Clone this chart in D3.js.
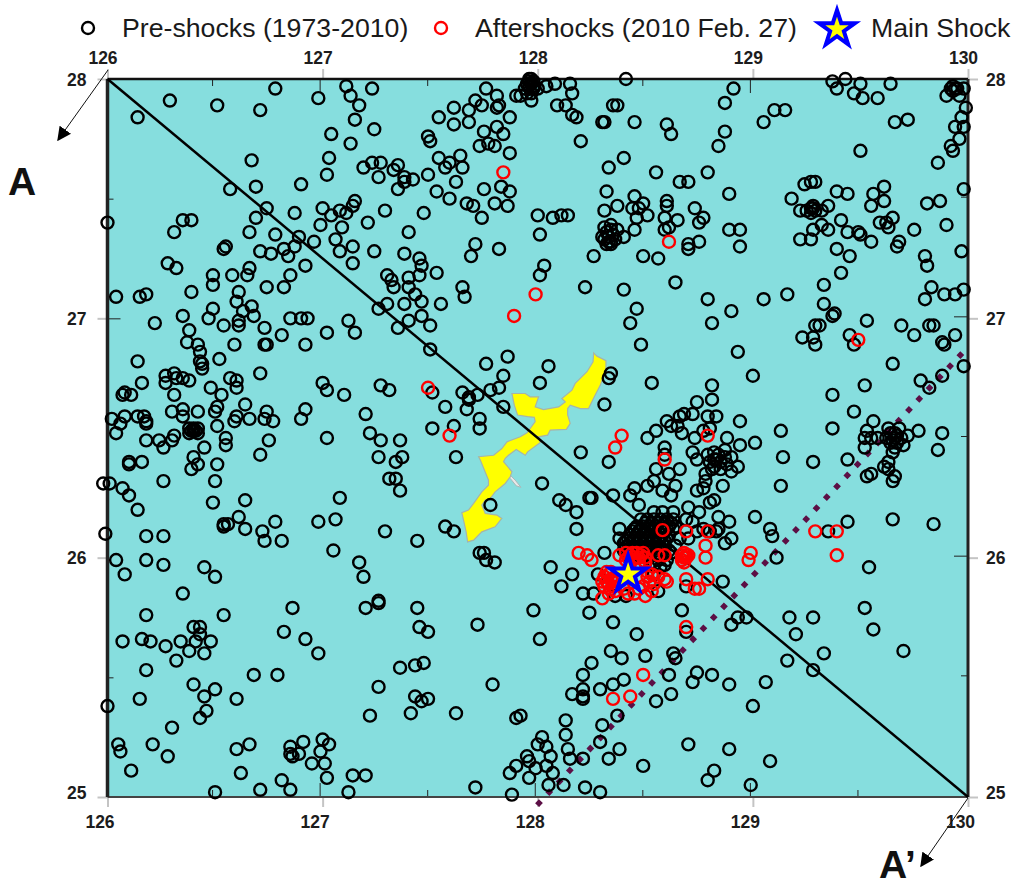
<!DOCTYPE html>
<html>
<head>
<meta charset="utf-8">
<script src="https://cdn.jsdelivr.net/npm/d3@7"></script>
<style>
  body { margin: 0; background: #fff; }
  text { font-family: "Liberation Sans", Arial, sans-serif; }
</style>
</head>
<body>
<script>
// tick labels
const lonTicks = [126, 127, 128, 129, 130];
const latTicks = [25, 26, 27, 28];
const lonMinor = [126.5, 127.5, 128.5, 129.5];
const latMinor = [25.5, 26.5, 27.5];

// legend
const legendLabels = ['Pre-shocks (1973-2010)', 'Aftershocks (2010 Feb. 27)', 'Main Shock'];

// [lon, lat]
const preshocksNorthWest = [
[126.78,27.96],[126.29,27.91],[126.51,27.89],[126.71,27.87],[126.14,27.84],[126.67,27.66],[126.69,27.55],[126.57,27.54],[126.90,27.56],[126.98,27.92],
[127.11,27.97],[127.13,27.93],[127.17,27.89],[127.23,27.96],[127.15,27.83],[127.24,27.79],[127.04,27.77],[127.13,27.73],[127.03,27.67],[127.02,27.60],
[127.19,27.63],[127.23,27.65],[127.27,27.65],[127.26,27.59],[127.35,27.64],[127.33,27.62],[127.38,27.59],[127.42,27.58],[127.35,27.54],[127.38,27.57],
[127.49,27.60],[127.54,27.67],[127.59,27.65],[127.57,27.63],[127.64,27.68],[127.65,27.63],[127.62,27.57],[127.53,27.53],[127.59,27.50],[127.67,27.48],
[127.70,27.47],[127.74,27.42],[127.80,27.48],[127.75,27.54],[127.83,27.55],[127.87,27.53],[127.86,27.47],[127.47,27.44],[127.29,27.45],[127.21,27.40],
[127.40,27.36],[127.15,27.49],[127.14,27.47],[127.08,27.45],[127.11,27.44],[127.00,27.46],[127.04,27.43],[126.99,27.39],[127.09,27.38],[126.87,27.44],
[126.74,27.46],[126.69,27.42],[126.66,27.36],[126.78,27.35],[126.89,27.34],[126.87,27.30],[126.96,27.32],[127.06,27.33],[127.14,27.30],[127.08,27.28],
[127.24,27.28],[127.14,27.23],[126.92,27.22],[127.38,27.27],[127.45,27.25],[127.46,27.22],[127.53,27.19],[127.45,27.18],[127.40,27.17],[127.30,27.18],
[127.32,27.16],[127.33,27.13],[127.40,27.13],[127.43,27.10],[127.65,27.13],[127.66,27.09],[127.71,27.31],[127.69,27.26],[127.82,27.29],[126.00,27.40],
[126.31,27.36],[126.35,27.41],[126.39,27.41],[126.55,27.30],[126.54,27.29],[126.71,27.28],[126.76,27.27],[126.82,27.29],[126.84,27.26],[126.66,27.21],
[126.65,27.18],[126.58,27.18],[126.49,27.18],[126.49,27.14],[126.28,27.23],[126.32,27.21],[126.39,27.11],[126.74,27.13],[126.82,27.13],[126.85,27.18],
[126.61,27.11],[126.04,27.09],[126.15,27.09],[126.18,27.10],[127.49,27.76],[127.50,27.74],[127.54,27.84],[127.61,27.88],[127.68,27.87],[127.61,27.81],
[127.68,27.82],[127.75,27.78],[127.81,27.80],[127.84,27.77],[127.73,27.72],[127.77,27.73],[127.80,27.72],[127.76,27.96],[127.81,27.93],[127.71,27.91],
[127.74,27.89],[127.81,27.88],[127.82,27.89],[127.87,27.84],[127.87,27.69]
];
const preshocksNorthEast = [
[127.96,28.00],[127.97,27.98],[127.98,27.96],[127.95,27.98],[127.90,27.93],[127.94,27.96],[128.00,27.96],[128.04,27.97],[128.08,27.98],[128.15,27.98],
[128.16,27.94],[127.97,27.91],[127.92,27.93],[128.41,28.00],[128.91,27.96],[128.87,27.90],[128.87,27.78],[128.84,27.72],[129.10,27.87],[129.15,27.87],
[129.05,27.82],[129.37,27.99],[129.43,28.00],[129.39,27.96],[129.50,27.98],[129.47,27.94],[129.51,27.92],[129.58,27.92],[129.64,27.98],[129.66,27.82],
[129.72,27.83],[129.50,27.70],[129.86,27.65],[129.92,27.96],[129.94,27.96],[129.98,27.96],[129.96,27.93],[129.90,27.93],[129.99,27.88],[129.97,27.84],
[129.94,27.80],[129.98,27.80],[129.96,27.75],[129.92,27.72],[129.93,27.70],[129.98,27.54],[129.81,27.48],[129.87,27.49],[129.90,27.39],[129.75,27.37],
[129.68,27.32],[129.67,27.30],[129.80,27.26],[129.81,27.22],[129.97,27.28],[129.83,27.13],[129.89,27.10],[129.98,27.12],[129.94,27.10],[129.80,27.08],
[128.09,27.89],[128.13,27.89],[128.16,27.85],[128.18,27.84],[128.20,27.74],[128.31,27.82],[128.30,27.82],[128.35,27.89],[128.37,27.89],[128.45,27.82],
[128.60,27.81],[128.62,27.77],[128.40,27.67],[128.33,27.63],[128.55,27.61],[128.66,27.57],[128.70,27.57],[128.79,27.61],[128.89,27.52],[129.18,27.50],
[129.24,27.56],[129.27,27.57],[129.29,27.57],[129.39,27.53],[129.44,27.52],[129.56,27.52],[129.61,27.55],[129.61,27.49],[129.55,27.47],[128.32,27.53],
[128.45,27.51],[128.37,27.47],[128.31,27.45],[128.44,27.46],[128.49,27.48],[128.47,27.46],[128.60,27.49],[128.60,27.47],[128.73,27.46],[128.77,27.42],
[128.51,27.43],[128.59,27.42],[128.65,27.41],[128.75,27.40],[128.46,27.42],[128.00,27.43],[128.07,27.42],[128.11,27.43],[128.14,27.43],[128.45,27.37],
[128.40,27.34],[128.34,27.39],[128.34,27.37],[128.31,27.38],[128.37,27.37],[128.30,27.34],[128.34,27.32],[128.36,27.33],[128.34,27.31],[128.61,27.38],
[128.59,27.37],[128.01,27.35],[128.89,27.37],[128.94,27.37],[128.94,27.30],[128.75,27.32],[128.70,27.31],[128.70,27.29],[128.26,27.26],[128.49,27.26],
[128.56,27.25],[128.03,27.22],[128.01,27.18],[128.22,27.13],[128.40,27.12],[128.64,27.15],[128.79,27.08],[129.05,27.08],[129.16,27.10],[129.33,27.14],
[129.41,27.19],[129.39,27.29],[129.45,27.26],[129.22,27.33],[129.27,27.33],[129.28,27.37],[129.32,27.39],[129.35,27.37],[129.41,27.41],[129.44,27.36],
[129.49,27.36],[129.50,27.35],[129.55,27.32],[129.59,27.40],[129.62,27.40],[129.63,27.38],[129.65,27.42],[129.22,27.45],[129.25,27.45],[129.28,27.46],
[129.29,27.45],[129.32,27.45],[129.35,27.47],[129.28,27.47]
];
const preshocksMiddleWest = [
[126.35,27.01],[126.49,27.04],[126.47,27.00],[126.22,26.98],[126.38,26.95],[126.37,26.90],[126.54,26.97],[126.61,26.99],[126.61,26.97],[126.63,27.03],
[126.68,27.01],[126.67,27.05],[126.60,27.07],[126.73,26.96],[126.81,26.93],[126.85,27.00],[126.90,27.00],[126.93,27.00],[126.59,26.89],[126.73,26.89],
[126.74,26.89],[126.92,26.89],[127.02,26.94],[127.12,26.99],[127.15,26.94],[126.42,26.89],[126.43,26.86],[126.43,26.82],[126.44,26.81],[126.44,26.79],
[126.14,26.82],[126.52,26.83],[126.71,26.77],[126.16,26.73],[126.27,26.76],[126.27,26.73],[126.31,26.77],[126.32,26.75],[126.35,26.75],[126.38,26.74],
[126.31,26.68],[126.57,26.75],[126.60,26.74],[126.60,26.71],[126.48,26.71],[126.53,26.68],[126.07,26.68],[126.08,26.69],[126.11,26.68],[127.00,26.73],
[127.02,26.70],[127.10,26.68],[127.27,26.72],[127.31,26.70],[127.51,26.69],[127.57,26.63],[127.65,26.69],[127.68,26.67],[127.68,26.66],[127.67,26.62],
[127.72,26.68],[127.78,26.70],[127.82,26.71],[127.84,26.76],[127.76,26.81],[127.86,26.84],[127.84,26.63],[127.73,26.58],[127.73,26.54],[127.50,26.87],
[127.35,26.96],[127.40,26.99],[127.46,27.01],[127.50,26.97],[127.26,27.04],[127.30,27.06],[127.38,27.06],[127.46,27.07],[127.55,27.06],[126.64,26.64],
[126.74,26.61],[126.51,26.63],[126.50,26.61],[126.35,26.62],[126.30,26.61],[126.42,26.61],[126.35,26.59],[126.51,26.55],[126.60,26.59],[126.59,26.57],
[126.66,26.58],[126.73,26.58],[126.77,26.57],[126.92,26.62],[126.90,26.58],[127.20,26.60],[127.22,26.52],[127.27,26.49],[127.36,26.49],[127.37,26.42],
[127.34,26.40],[127.26,26.42],[127.31,26.33],[127.34,26.33],[127.36,26.28],[127.51,26.54],[127.61,26.55],[127.62,26.42],[127.02,26.50],[126.75,26.49],
[126.71,26.43],[126.02,26.58],[126.08,26.59],[126.06,26.56],[126.04,26.52],[126.14,26.59],[126.17,26.59],[126.18,26.57],[126.18,26.56],[126.38,26.54],
[126.40,26.53],[126.42,26.52],[126.38,26.52],[126.42,26.54],[126.18,26.49],[126.24,26.49],[126.31,26.51],[126.30,26.49],[126.26,26.46],[126.55,26.50],
[126.55,26.47],[126.45,26.46],[126.40,26.42],[126.42,26.39],[126.39,26.37],[126.51,26.39],[126.10,26.40],[126.10,26.39],[126.16,26.40],[126.26,26.32],
[126.50,26.32],[126.49,26.23],[126.64,26.24],[125.98,26.31],[126.01,26.31],[126.07,26.29],[126.10,26.26],[126.14,26.20],[125.99,26.10],[126.18,26.09],
[126.26,26.09],[126.18,25.99],[126.26,25.97],[126.04,25.99],[126.08,25.93],[126.61,26.17],[126.56,26.14],[126.54,26.13],[126.64,26.12],[126.54,26.14],
[126.72,26.11],[126.73,26.07],[126.78,26.15],[126.81,26.07],[126.45,25.96],[126.50,25.92],[126.35,25.85],[126.98,26.15],[127.06,26.16],[127.08,26.25],
[127.05,26.03],[127.29,26.11],[127.44,26.07],[127.17,25.98],[127.19,25.92],[127.26,25.82],[127.57,26.13],[127.61,26.11],[127.78,26.22],[127.73,26.02],
[127.75,26.02],[127.76,25.99],[127.80,25.98]
];
const preshocksMiddleEast = [
[128.46,27.04],[128.43,26.98],[128.48,26.89],[128.81,26.98],[128.90,27.03],[128.93,26.86],[129.00,26.76],[129.33,27.06],[129.38,27.02],[129.37,27.01],
[129.31,26.97],[129.29,26.97],[129.23,26.92],[129.28,26.92],[129.29,26.89],[129.53,26.99],[129.45,26.93],[129.47,26.89],[129.69,26.97],[129.75,26.93],
[129.82,26.97],[129.84,26.97],[129.94,26.93],[129.88,26.90],[129.89,26.89],[129.65,26.81],[129.98,26.80],[129.88,26.76],[129.78,26.74],[129.82,26.71],
[129.52,26.72],[129.37,26.68],[129.47,26.61],[129.37,26.54],[129.77,26.53],[129.88,26.52],[129.86,26.45],[129.56,26.57],[129.53,26.53],[129.52,26.50],
[129.55,26.50],[129.58,26.50],[129.63,26.54],[129.68,26.54],[129.66,26.52],[129.62,26.50],[129.66,26.50],[129.69,26.50],[129.72,26.51],[129.67,26.48],
[129.70,26.47],[129.65,26.44],[129.52,26.46],[129.63,26.40],[129.61,26.38],[129.63,26.37],[129.66,26.34],[129.65,26.32],[129.55,26.35],[129.53,26.34],
[129.44,26.41],[129.13,26.53],[129.14,26.42],[129.28,26.40],[129.13,26.30],[129.65,26.16],[129.44,26.15],[129.84,26.14],[129.54,25.96],[129.35,26.11],
[129.01,26.17],[129.08,26.12],[129.09,26.09],[129.11,26.00],[128.05,26.80],[128.01,26.73],[128.34,26.77],[128.33,26.75],[128.53,26.73],[128.31,26.64],
[128.81,26.72],[128.81,26.66],[128.74,26.65],[128.72,26.60],[128.68,26.60],[128.66,26.59],[128.79,26.59],[128.83,26.59],[128.94,26.57],[128.60,26.57],
[128.62,26.55],[128.65,26.55],[128.67,26.52],[128.55,26.53],[128.51,26.50],[128.73,26.50],[128.77,26.53],[128.80,26.54],[128.88,26.50],[128.94,26.47],
[129.01,26.48],[128.87,26.45],[128.82,26.44],[128.79,26.43],[128.72,26.44],[128.74,26.41],[128.80,26.40],[128.83,26.41],[128.87,26.42],[128.90,26.42],
[128.88,26.39],[128.93,26.38],[128.90,26.36],[128.85,26.37],[128.81,26.37],[128.78,26.35],[128.78,26.32],[128.59,26.46],[128.59,26.43],[128.33,26.40],
[128.20,26.44],[128.55,26.37],[128.61,26.35],[128.66,26.37],[128.64,26.30],[128.58,26.28],[128.62,26.26],[128.54,26.32],[128.51,26.30],[128.45,26.29],
[128.43,26.26],[128.47,26.22],[128.35,26.26],[128.25,26.25],[128.24,26.25],[128.02,26.31],[128.10,26.24],[128.13,26.22],[128.18,26.19],[128.18,26.12],
[128.74,26.28],[128.86,26.30],[128.77,26.29],[128.80,26.23],[128.82,26.24],[128.84,26.17],[128.89,26.15],[128.84,26.12],[128.90,26.08],[128.87,26.06],
[128.83,26.11],[128.75,26.19],[128.70,26.21],[128.38,26.12],[128.38,26.08],[128.31,26.02],[128.54,26.19],[128.58,26.19],[128.63,26.19],[128.69,26.16],
[128.72,26.15],[128.77,26.12],[128.80,26.11],[128.70,26.08],[128.74,26.11],[128.06,25.96],[128.16,25.93],[128.11,25.88],[128.21,25.85],[128.26,25.85],
[128.28,25.93],[128.86,25.90],[128.69,25.88],[128.56,25.86],[128.36,25.84],[128.41,25.84],[128.54,25.93],[128.57,25.96],[128.59,25.97],[128.54,25.97]
];
// the packed swarm just north of the main shock
const preshocksSwarm = [
[128.48,26.16],[128.51,26.16],[128.54,26.16],[128.57,26.16],[128.60,26.16],[128.63,26.16],
[128.50,26.145],[128.53,26.145],[128.56,26.145],[128.59,26.145],[128.62,26.145],
[128.46,26.13],[128.49,26.13],[128.52,26.13],[128.55,26.13],[128.58,26.13],[128.61,26.13],[128.64,26.13],
[128.45,26.12],[128.48,26.12],[128.51,26.12],[128.54,26.12],[128.57,26.12],[128.60,26.12],[128.63,26.12],
[128.44,26.11],[128.47,26.11],[128.50,26.11],[128.53,26.11],[128.56,26.11],[128.59,26.11],
[128.43,26.095],[128.46,26.095],[128.49,26.095],[128.52,26.095],[128.55,26.095],[128.58,26.095],[128.61,26.095],
[128.42,26.08],[128.45,26.08],[128.48,26.08],[128.51,26.08],[128.54,26.08],[128.57,26.08],[128.60,26.08],
[128.41,26.07],[128.44,26.07],[128.47,26.07],[128.50,26.07],[128.53,26.07],[128.56,26.07],[128.59,26.07],
[128.40,26.06],[128.43,26.06],[128.46,26.06],[128.49,26.06],[128.52,26.06],[128.55,26.06],[128.58,26.06],
[128.41,26.045],[128.44,26.045],[128.47,26.045],[128.50,26.045],[128.53,26.045],[128.56,26.045],[128.59,26.045],
[128.40,26.03],[128.43,26.03],[128.46,26.03],[128.49,26.03],[128.52,26.03],[128.55,26.03],[128.58,26.03],[128.61,26.03],
[128.42,26.01],[128.45,26.01],[128.48,26.01],[128.51,26.01],[128.54,26.01],[128.57,26.01],
[128.50,25.98],[128.53,25.98],[128.56,25.99],[128.60,25.99],[128.62,26.02],[128.64,26.05],[128.66,26.08]
];
// tight knots elsewhere on the map
const preshocksKnots = [
[127.96,27.99],[127.98,27.99],[127.97,28.00],[127.96,27.97],[127.98,27.97],[127.95,27.94],[127.97,27.94],
[128.32,27.36],[128.33,27.34],[128.35,27.35],[128.33,27.32],[128.31,27.33],[128.32,27.31],
[129.27,27.44],[129.27,27.46],[129.93,27.95],[129.95,27.96],[129.93,27.97],
[129.65,26.49],[129.64,26.52],[129.67,26.51],[129.64,26.48],[129.66,26.46],
[126.39,26.53],[126.40,26.54],[126.41,26.53],[128.82,26.41],[128.85,26.40],[128.82,26.38],[128.84,26.43]
];
const preshocksSouthWest = [
[126.18,25.76],[126.54,25.76],[126.86,25.79],[127.20,25.79],[127.26,25.81],[127.44,25.79],[126.40,25.71],[126.43,25.71],[126.43,25.68],[126.41,25.65],
[126.48,25.65],[126.07,25.65],[126.16,25.66],[126.20,25.65],[126.27,25.63],[126.34,25.65],[126.38,25.61],[126.45,25.60],[126.32,25.57],[126.18,25.53],
[126.82,25.69],[126.92,25.66],[126.98,25.60],[127.45,25.71],[127.49,25.69],[127.72,25.72],[127.36,25.54],[127.43,25.55],[127.47,25.56],[126.68,25.51],
[126.79,25.51],[126.40,25.47],[126.50,25.45],[126.45,25.42],[126.60,25.41],[126.15,25.41],[126.00,25.38],[126.46,25.36],[126.43,25.33],[127.26,25.46],
[127.79,25.47],[127.43,25.42],[127.46,25.40],[127.49,25.41],[127.22,25.34],[127.41,25.35],[127.62,25.35],[126.30,25.29],[126.05,25.22],[126.06,25.19],
[126.21,25.22],[126.28,25.17],[126.11,25.11],[126.66,25.22],[126.60,25.20],[126.62,25.10],[126.85,25.21],[126.85,25.18],[126.86,25.17],[126.91,25.23],
[126.89,25.18],[127.00,25.24],[127.03,25.22],[126.99,25.19],[126.95,25.14],[127.01,25.14],[127.02,25.08],[127.14,25.09],[127.20,25.09],[126.81,25.07],
[126.85,25.03],[126.71,25.03],[126.50,25.02],[127.12,25.02],[127.71,25.04],[127.87,25.10]
];
const preshocksSouthEast = [
[127.98,25.78],[128.01,25.66],[128.24,25.77],[128.35,25.73],[128.46,25.68],[128.67,25.78],[128.69,25.69],[128.90,25.72],[128.93,25.75],[128.97,25.75],
[129.17,25.75],[129.28,25.75],[129.20,25.68],[129.52,25.79],[129.56,25.70],[129.70,25.61],[129.33,25.60],[129.16,25.57],[129.28,25.53],[129.06,25.48],
[129.00,25.38],[128.34,25.61],[128.39,25.58],[128.50,25.59],[128.63,25.60],[128.64,25.58],[128.25,25.56],[128.21,25.51],[128.61,25.51],[128.74,25.52],
[128.81,25.51],[128.72,25.48],[128.89,25.47],[128.40,25.49],[128.35,25.47],[128.21,25.45],[128.16,25.43],[128.21,25.42],[128.21,25.41],[128.29,25.45],
[128.62,25.43],[128.55,25.40],[128.37,25.34],[128.30,25.30],[127.92,25.34],[127.90,25.33],[128.13,25.32],[128.13,25.26],[128.02,25.25],[128.00,25.22],
[128.04,25.21],[128.14,25.20],[128.29,25.23],[128.38,25.20],[128.33,25.16],[128.21,25.16],[128.15,25.16],[128.06,25.17],[127.95,25.17],[127.96,25.15],
[127.90,25.13],[127.99,25.12],[128.04,25.13],[128.07,25.10],[127.96,25.08],[128.05,25.05],[128.12,25.05],[128.22,25.04],[128.29,25.02],[127.88,25.01],
[128.49,25.13],[128.70,25.22],[128.89,25.20],[129.08,25.15],[128.82,25.11],[128.79,25.07],[128.99,25.05]
];
const aftershocks = [
[128.58,26.115],[128.69,26.11],[128.79,26.11],[128.78,26.05],[128.78,26.00],[128.19,26.02],[128.23,26.01],[128.25,25.99],[128.38,26.01],[128.44,26.02],
[128.48,26.01],[128.42,26.00],[128.50,26.00],[128.45,26.00],[128.56,26.01],[128.59,26.01],[128.69,26.01],[128.67,25.99],[128.69,26.00],[128.68,26.02],
[128.31,25.92],[128.33,25.93],[128.34,25.91],[128.31,25.88],[128.35,25.88],[128.34,25.87],[128.36,25.92],[128.51,25.92],[128.53,25.93],[128.56,25.92],
[128.59,25.91],[128.60,25.90],[128.49,25.88],[128.53,25.86],[128.42,25.85],[128.45,25.85],[128.50,25.84],[128.30,25.83],[128.69,25.91],[128.79,25.91],
[128.75,25.87],[128.73,25.87],[129.29,26.11],[129.39,26.11],[129.39,26.01],[128.99,26.02],[128.98,25.99],[129.49,26.91],[128.79,26.51],[128.59,26.41],
[128.39,26.51],[128.36,26.46],[127.89,27.01],[127.49,26.71],[127.59,26.51],[127.84,27.61],[128.61,27.32],[127.99,27.10],[128.69,25.71],[128.49,25.51],
[128.43,25.42],[128.35,25.41]
];
// overlapping aftershocks around the main shock
const aftershocksPacked = [
[128.41,26.02],[128.43,26.01],[128.46,26.02],[128.47,26.00],[128.49,26.02],[128.41,25.99],[128.44,25.99],[128.47,25.98],[128.50,25.98],
[128.32,25.90],[128.33,25.89],[128.35,25.90],[128.32,25.94],[128.30,25.90],[128.33,25.85],[128.36,25.86],[128.37,25.90],[128.34,25.94],
[128.68,26.00],[128.70,26.01],[128.67,26.01],[128.68,25.98],[128.52,25.90],[128.54,25.89],[128.51,25.94],[128.40,25.87],[128.47,25.87]
];
const mainShock = [128.42, 25.93];

// section lines
const profileAA = [[126, 28], [130, 25]];
const profileDotted = [[127.997, 24.966], [130, 26.88]];

// Okinawa outline
const island = [
[128.260,26.856],[128.275,26.842],[128.317,26.823],[128.317,26.784],[128.291,26.721],[128.263,26.672],[128.236,26.623],[128.198,26.623],[128.151,26.637],
[128.139,26.623],[128.139,26.596],[128.151,26.561],[128.133,26.536],[128.058,26.533],[128.046,26.512],[128.004,26.505],[128.012,26.481],[127.953,26.442],
[127.942,26.428],[127.900,26.452],[127.864,26.428],[127.849,26.415],[127.841,26.401],[127.880,26.359],[127.872,26.338],[127.849,26.310],[127.802,26.275],
[127.779,26.247],[127.756,26.240],[127.740,26.220],[127.756,26.185],[127.810,26.178],[127.833,26.164],[127.802,26.129],[127.740,26.108],[127.702,26.073],
[127.674,26.066],[127.667,26.108],[127.655,26.157],[127.647,26.188],[127.678,26.199],[127.702,26.227],[127.740,26.275],[127.771,26.303],[127.771,26.324],
[127.733,26.408],[127.725,26.422],[127.795,26.428],[127.833,26.456],[127.857,26.484],[127.919,26.505],[127.950,26.522],[127.988,26.568],[127.984,26.586],
[127.953,26.589],[127.906,26.596],[127.891,26.637],[127.880,26.686],[127.942,26.686],[127.965,26.672],[128.004,26.672],[127.988,26.630],[128.027,26.619],
[128.097,26.630],[128.128,26.651],[128.112,26.665],[128.159,26.700],[128.174,26.728],[128.229,26.777],[128.257,26.818]
];
const islandSliver = [[127.864,26.352],[127.895,26.324],[127.922,26.294],[127.900,26.300],[127.872,26.331]];

const preshocks = [].concat(preshocksNorthWest, preshocksNorthEast, preshocksMiddleWest,
  preshocksMiddleEast, preshocksSwarm, preshocksKnots, preshocksSouthWest, preshocksSouthEast);

const width = 1016;
const height = 889;
const margin = {top: 79, right: 48, bottom: 92, left: 107.5};

const xScale = d3.scaleLinear().domain([126, 130]).range([margin.left, width - margin.right]);
const yScale = d3.scaleLinear().domain([25, 28]).range([height - margin.bottom, margin.top]);

const svg = d3.select('body').append('svg')
  .attr('width', width)
  .attr('height', height)
  .style('display', 'block');

svg.append('defs').append('marker')
  .attr('id', 'arrowhead')
  .attr('viewBox', '0 0 10 10')
  .attr('refX', 9).attr('refY', 5)
  .attr('markerWidth', 14).attr('markerHeight', 14)
  .attr('markerUnits', 'userSpaceOnUse')
  .attr('orient', 'auto')
  .append('path').attr('d', 'M0,0L10,5L0,10Z').attr('fill', '#000');

// background
svg.append('rect')
  .attr('x', xScale(126)).attr('y', yScale(28))
  .attr('width', xScale(130) - xScale(126))
  .attr('height', yScale(25) - yScale(28))
  .attr('fill', '#86dede');

const toPath = d3.line().x(d => xScale(d[0])).y(d => yScale(d[1]));

// island
svg.append('path').attr('d', toPath(islandSliver) + 'Z')
  .attr('fill', '#e8e8e8').attr('stroke', '#a9b8b8').attr('stroke-width', 1);
svg.append('path').attr('d', toPath(island) + 'Z')
  .attr('fill', '#ffff00').attr('stroke', '#a8b4a8').attr('stroke-width', 1.2);

// inner ticks, long at every degree and short at the half
function innerTicks(axis, values, size, translate) {
  const g = svg.append('g').attr('transform', translate)
    .call(axis.tickValues(values).tickSize(size).tickFormat(''));
  g.select('.domain').remove();
  g.selectAll('line').attr('stroke', '#222').attr('stroke-width', 1);
}
innerTicks(d3.axisTop(xScale), [127, 129], -14, `translate(-3,${yScale(28)})`);
innerTicks(d3.axisTop(xScale), [126.5, 127.5, 128.5], -7, `translate(-3,${yScale(28)})`);
innerTicks(d3.axisBottom(xScale), [127, 128, 129], -14, `translate(-3,${yScale(25)})`);
innerTicks(d3.axisBottom(xScale), lonMinor, -7, `translate(-3,${yScale(25)})`);
innerTicks(d3.axisLeft(yScale), [27], -13, `translate(${xScale(126)},0)`);
innerTicks(d3.axisLeft(yScale), [25.5, 27.5], -6, `translate(${xScale(126)},0)`);
innerTicks(d3.axisRight(yScale), [26, 27], -14, `translate(${xScale(130)},-2)`);
innerTicks(d3.axisRight(yScale), latMinor, -7, `translate(${xScale(130)},-2)`);

// outer axes
function outerAxis(axis, values, translate, dx, dy) {
  const g = svg.append('g').attr('transform', translate)
    .call(axis.tickValues(values).tickSize(10).tickPadding(4).tickFormat(d3.format('d')));
  g.select('.domain').remove();
  g.selectAll('line').attr('stroke', '#c4c4c4').attr('stroke-width', 2);
  g.selectAll('text')
    .attr('dx', dx).attr('dy', dy)
    .attr('fill', '#1c1c1c')
    .attr('font-family', '"Liberation Sans", Arial, sans-serif')
    .attr('font-weight', 'bold')
    .attr('font-size', 17.5);
  return g;
}
outerAxis(d3.axisTop(xScale), lonTicks, `translate(0,${yScale(28)})`, -5, -1);
outerAxis(d3.axisBottom(xScale), lonTicks, `translate(0,${yScale(25)})`, -8, '0.95em');
outerAxis(d3.axisLeft(yScale), latTicks, `translate(${xScale(126)},0)`, -7, '0.36em')
  .selectAll('text').filter(d => d === 25).attr('dy', '0.1em');
outerAxis(d3.axisRight(yScale), latTicks, `translate(${xScale(130)},0)`, 4, '0.36em')
  .selectAll('text').filter(d => d === 25).attr('dy', '0.1em');

// spines
svg.append('line')
  .attr('x1', xScale(126)).attr('x2', xScale(130)).attr('y1', yScale(28)).attr('y2', yScale(28))
  .attr('stroke', '#111').attr('stroke-width', 2.5);
svg.append('line')
  .attr('x1', xScale(126)).attr('x2', xScale(130)).attr('y1', yScale(25)).attr('y2', yScale(25))
  .attr('stroke', '#444').attr('stroke-width', 2);
svg.append('line')
  .attr('x1', xScale(126)).attr('x2', xScale(126)).attr('y1', yScale(28)).attr('y2', yScale(25))
  .attr('stroke', '#222').attr('stroke-width', 3.5);
svg.append('line')
  .attr('x1', xScale(130)).attr('x2', xScale(130)).attr('y1', yScale(28)).attr('y2', yScale(25))
  .attr('stroke', '#222').attr('stroke-width', 3);

// section lines
svg.append('path').attr('d', toPath(profileDotted))
  .attr('fill', 'none').attr('stroke', '#5c0f45')
  .attr('stroke-width', 5.5).attr('stroke-dasharray', '5.5 9.5');

// events
svg.append('g').selectAll('circle').data(preshocks).join('circle')
  .attr('cx', d => xScale(d[0]))
  .attr('cy', d => yScale(d[1]))
  .attr('r', 6)
  .attr('fill', 'none')
  .attr('stroke', '#000')
  .attr('stroke-width', 2.4);

svg.append('path').attr('d', toPath(profileAA))
  .attr('fill', 'none').attr('stroke', '#000').attr('stroke-width', 2.5);

svg.append('g').selectAll('circle').data(aftershocks.concat(aftershocksPacked)).join('circle')
  .attr('cx', d => xScale(d[0]))
  .attr('cy', d => yScale(d[1]))
  .attr('r', 6)
  .attr('fill', 'none')
  .attr('stroke', '#ff0000')
  .attr('stroke-width', 2.4);

const star = d3.symbol().type(d3.symbolStar).size(400);
svg.append('path')
  .attr('d', star())
  .attr('transform', `translate(${xScale(mainShock[0])},${yScale(mainShock[1])})`)
  .attr('fill', '#ffff00').attr('stroke', '#0000ff').attr('stroke-width', 4);

// A and A' arrows
svg.append('line')
  .attr('x1', 108).attr('y1', 70).attr('x2', 58).attr('y2', 140)
  .attr('stroke', '#111').attr('stroke-width', 1).attr('marker-end', 'url(#arrowhead)');
svg.append('line')
  .attr('x1', 968).attr('y1', 798).attr('x2', 921).attr('y2', 866)
  .attr('stroke', '#111').attr('stroke-width', 1).attr('marker-end', 'url(#arrowhead)');
svg.append('text').attr('x', 8).attr('y', 195)
  .attr('font-weight', 'bold').attr('font-size', 39).attr('fill', '#111').text('A');
svg.append('text').attr('x', 879).attr('y', 878)
  .attr('font-weight', 'bold').attr('font-size', 39).attr('fill', '#111').text('A\u2019');

// legend
const legendText = svg.append('g')
  .attr('font-size', 26.7).attr('fill', '#1a1a1a');
legendText.append('text').attr('x', 122).attr('y', 37).text(legendLabels[0]);
legendText.append('text').attr('x', 475).attr('y', 37).text(legendLabels[1]);
legendText.append('text').attr('x', 871).attr('y', 37).text(legendLabels[2]);

svg.append('circle').attr('cx', 88).attr('cy', 28).attr('r', 6)
  .attr('fill', 'none').attr('stroke', '#000').attr('stroke-width', 2.4);
svg.append('circle').attr('cx', 441).attr('cy', 28).attr('r', 6)
  .attr('fill', 'none').attr('stroke', '#ff0000').attr('stroke-width', 2.4);
svg.append('path')
  .attr('d', star())
  .attr('transform', 'translate(837,29)')
  .attr('fill', '#ffff00').attr('stroke', '#0000ff').attr('stroke-width', 4);
</script>
</body>
</html>
